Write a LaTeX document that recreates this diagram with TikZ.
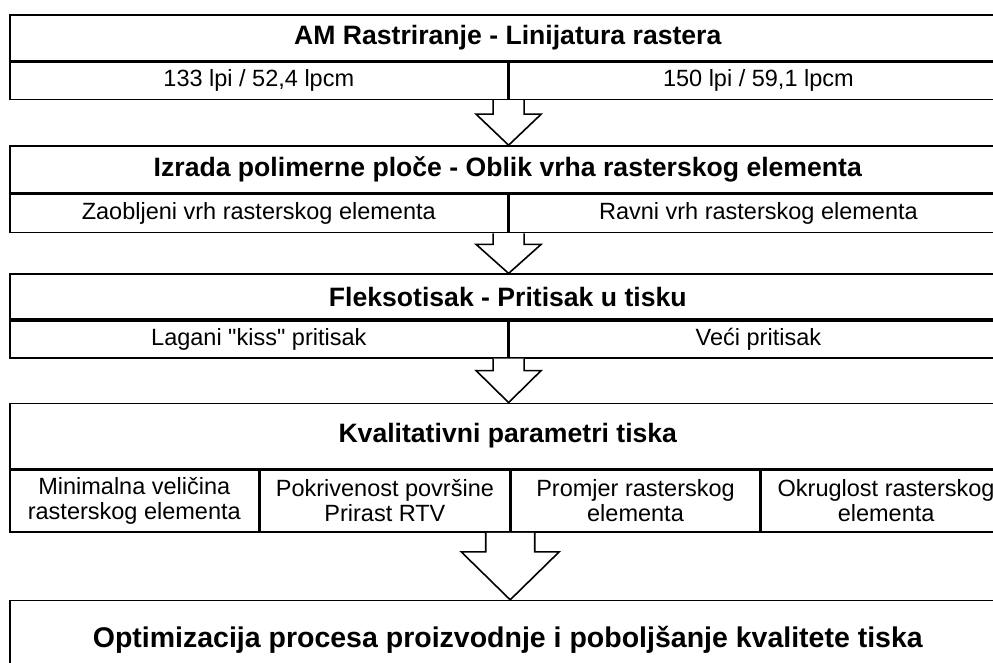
\documentclass[tikz,border=0pt]{standalone}
\usepackage{fontspec}
\setmainfont{Liberation Sans}
\newfontfamily\straightquote{Liberation Sans}
\usetikzlibrary{calc}

\tikzset{
  cell/.style={draw, rectangle, inner sep=0pt, anchor=north west, align=center,
    minimum height=37pt, font=\fontsize{23.5}{25}\selectfont},
  half/.style={cell, minimum width=498pt},
  quarter/.style={cell, minimum width=249pt, minimum height=62pt},
  head/.style={cell, minimum width=996pt, font=\fontsize{26.6}{30}\selectfont\bfseries},
  blockarr/.style={draw, fill=white, line join=miter}
}

% hollow block arrow: from, to, stem half width, head half width, shoulder depth
\newcommand{\flowarrow}[5]{%
  \draw[blockarr] let \p1=(#1), \p2=(#2) in
    (\x1-#3,\y1) -- (\x1-#3,\y1-#5) -- (\x1-#4,\y1-#5) -- (\x1,\y2)
    -- (\x1+#4,\y1-#5) -- (\x1+#3,\y1-#5) -- (\x1+#3,\y1);}

\begin{document}
\begin{tikzpicture}[x=1pt,y=1pt,line width=1.6pt]
\clip (0,0) rectangle (993,662);

% rastriranje
\node[head, minimum height=46pt] (am) at (9,648) {AM Rastriranje - Linijatura rastera};
\node[half] (am1) at (am.south west) {133 lpi / 52,4 lpcm};
\node[half] (am2) at (am1.north east) {150 lpi / 59,1 lpcm};

% polimerna ploca
\node[head, minimum height=47pt] (pl) at ([yshift=-45pt]am1.south west)
  {Izrada polimerne ploče - Oblik vrha rasterskog elementa};
\node[half, minimum height=38pt] (pl1) at (pl.south west) {Zaobljeni vrh rasterskog elementa};
\node[half, minimum height=38pt] (pl2) at (pl1.north east) {Ravni vrh rasterskog elementa};

% tisak
\node[head, minimum height=45pt] (fl) at ([yshift=-40pt]pl1.south west) {Fleksotisak - Pritisak u tisku};
\node[half] (fl1) at (fl.south west) {Lagani {\straightquote"}kiss{\straightquote"} pritisak};
\node[half] (fl2) at (fl1.north east) {Veći pritisak};

% parametri
\node[head, minimum height=65pt] (kv) at ([yshift=-44pt]fl1.south west) {Kvalitativni parametri tiska};
\node[quarter] (kv1) at (kv.south west) {Minimalna veličina\\rasterskog elementa};
\node[quarter] (kv2) at (kv1.north east) {Pokrivenost površine\\Prirast RTV};
\node[quarter] (kv3) at (kv2.north east) {Promjer rasterskog\\elementa};
\node[quarter] (kv4) at (kv3.north east) {Okruglost rasterskog\\elementa};

% rezultat
\node[head, minimum height=78pt, font=\fontsize{28.5}{32}\selectfont\bfseries] (opt)
  at ([yshift=-67pt]kv1.south west)
  {Optimizacija procesa proizvodnje i poboljšanje kvalitete tiska};

\flowarrow{am1.south east}{pl.north}{15.5pt}{32.5pt}{14pt}
\flowarrow{pl1.south east}{fl.north}{15.5pt}{32.5pt}{11pt}
\flowarrow{fl1.south east}{kv.north}{15.5pt}{32.5pt}{12pt}
\flowarrow{kv2.south east}{opt.north}{24.5pt}{49pt}{19pt}
\end{tikzpicture}
\end{document}
